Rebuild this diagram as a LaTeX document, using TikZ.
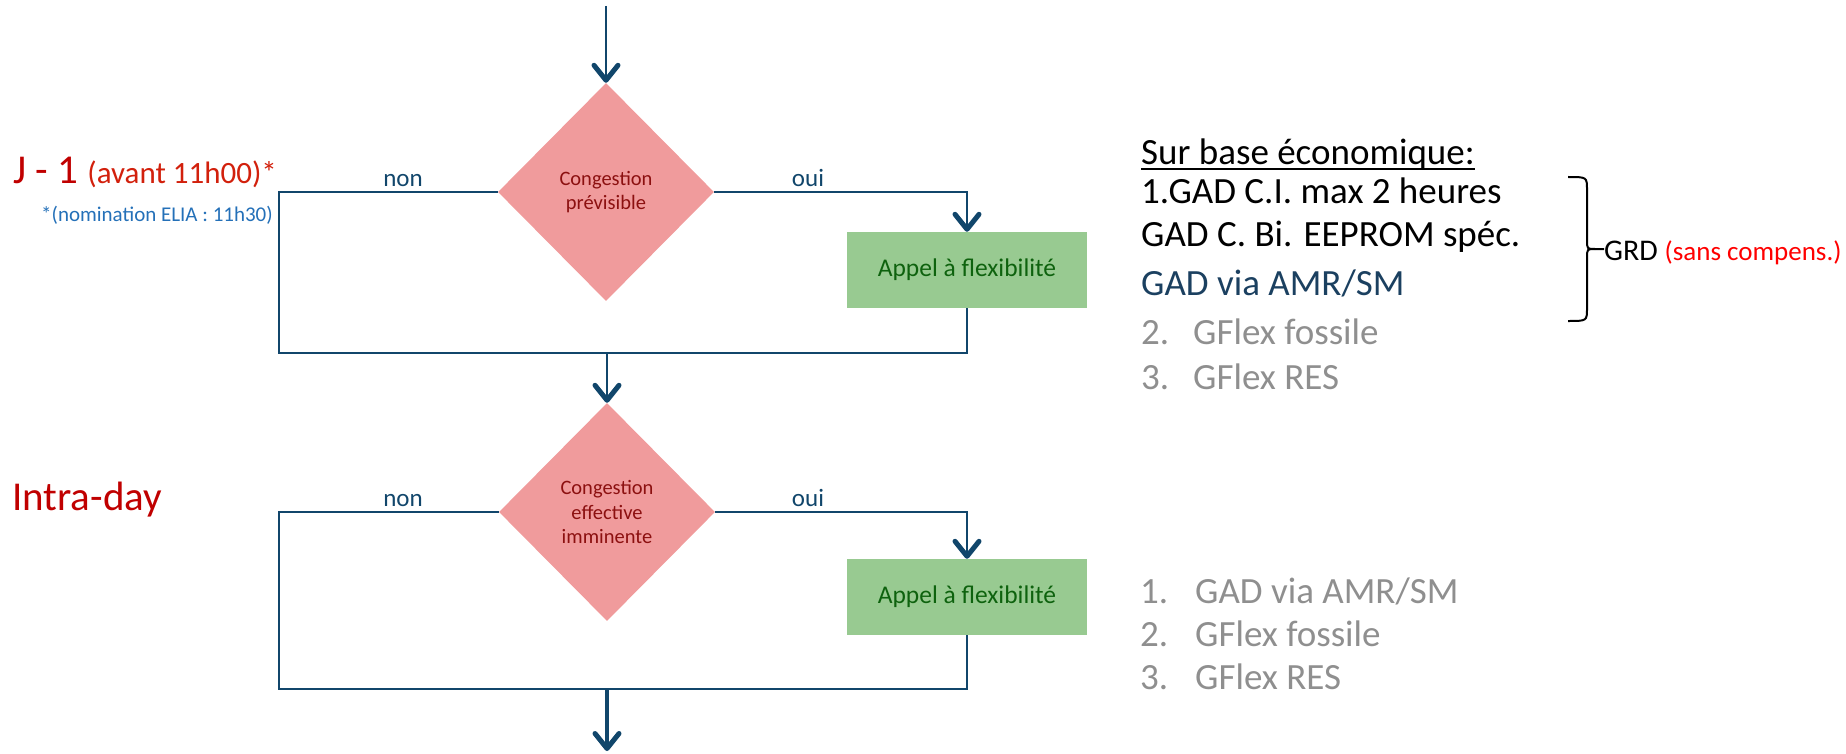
\documentclass[tikz,border=0pt]{standalone}
\usepackage{fontspec}
\setmainfont{Carlito}
\usetikzlibrary{shapes.geometric,arrows.meta}

\definecolor{flowblue}{HTML}{11466B}
\definecolor{decfill}{HTML}{F09B9C}
\definecolor{dectext}{HTML}{8C1010}
\definecolor{actfill}{HTML}{98CA91}
\definecolor{acttext}{HTML}{0E620E}
\definecolor{titlered}{HTML}{C00000}
\definecolor{notered}{HTML}{D2200C}
\definecolor{noteblue}{HTML}{2470B8}
\definecolor{listgray}{HTML}{8F8F8F}
\definecolor{listblue}{HTML}{1B4060}

\tikzset{
  decision/.style={diamond, fill=decfill, text=dectext, minimum width=216pt,
    minimum height=218pt, inner sep=0pt, align=center,
    font=\fontsize{20.5}{24.5}\selectfont},
  action/.style={rectangle, fill=actfill, text=acttext, minimum width=240pt,
    minimum height=76pt, inner sep=0pt, font=\fontsize{25.5}{30}\selectfont},
  flow/.style={draw=flowblue, line width=2pt},
  flowarrow/.style={flow, -{Straight Barb[length=15pt,width=24pt,line width=5pt,round]}},
  branch/.style={text=flowblue, font=\fontsize{25}{29}\selectfont, anchor=base, inner sep=0pt},
  txt/.style={anchor=base west, inner sep=0pt},
  listtxt/.style={txt, font=\fontsize{37}{44}\selectfont},
  brace/.style={draw=black, line width=2pt},
}

\begin{document}
\begin{tikzpicture}[x=1pt,y=-1pt]
\useasboundingbox (0,0) rectangle (1846,754);

% J - 1 stage
\node[decision] (prev) at (606,192) {Congestion\\prévisible};
\node[action] (flex1) at (967,270) {Appel à flexibilité};
\coordinate (start) at (606,6);
\coordinate (nonA) at (279,192);
\coordinate (loopA) at (279,353);

\draw[flowarrow] (start) -- (prev.north);
\draw[flow] (prev.west) -- (nonA) -- (loopA) -| (flex1.south);
\draw[flowarrow] (prev.east) -| (flex1.north);

\node[branch] (nonAl) at (403,186) {non};
\node[branch] (ouiAl) at (808,186) {oui};

% Intra-day stage
\node[decision] (imm) at (607,512) {Congestion\\effective\\imminente};
\node[action] (flex2) at (967,597) {Appel à flexibilité};
\coordinate (nonB) at (279,512);
\coordinate (loopB) at (279,689);
\coordinate (finish) at (607,751);

\draw[flowarrow] (loopA -| imm.north) -- (imm.north);
\draw[flow] (imm.west) -- (nonB) -- (loopB) -| (flex2.south);
\draw[flowarrow] (imm.east) -| (flex2.north);
\draw[flowarrow, line width=4pt] (loopB -| imm.south) -- (finish);

\node[branch] (nonBl) at (403,506) {non};
\node[branch] (ouiBl) at (808,506) {oui};

% Left labels
\node[txt, text=titlered] (jday) at (13,183)
  {\fontsize{41}{49}\selectfont J - 1 {\color{notered}\fontsize{31}{37}\selectfont (avant 11h00)*}};
\node[anchor=base east, inner sep=0pt, text=noteblue, font=\fontsize{21}{25}\selectfont]
  (elia) at (273,221) {*(nomination ELIA : 11h30)};
\node[txt, text=titlered, font=\fontsize{41}{49}\selectfont] (intra) at (12,510) {Intra-day};

% Right list, J - 1
\node[listtxt] (eco) at (1141,165) {Sur base économique:};
\draw[line width=2pt] ([yshift=-4pt]eco.base west) -- ([yshift=-4pt]eco.base east);
\node[listtxt] (gadci) at (1141,204) {1.GAD C.I. max 2 heures};
\node[listtxt] (gadbi) at (1141,246) {GAD C. Bi. EEPROM spéc.};
\node[listtxt, text=listblue] (gadamr) at (1141,295) {GAD via AMR/SM};
\node[listtxt, text=listgray] (fossA) at (1141,344) {\makebox[52pt][l]{2.}GFlex fossile};
\node[listtxt, text=listgray] (resA) at (1141,389) {\makebox[52pt][l]{3.}GFlex RES};

% Brace and GRD
\node[txt, font=\fontsize{30}{36}\selectfont] (grd) at (1604,260)
  {GRD {\color{red}\fontsize{27}{32}\selectfont (sans compens.)}};
\coordinate (tip) at (1604,249);
\draw[brace] (1568,177) .. controls (1587,177) .. (1587,190) -- (1587,240)
  .. controls (1587,249) .. (1595,249) -- (tip);
\draw[brace] (1568,321) .. controls (1587,321) .. (1587,308) -- (1587,258)
  .. controls (1587,249) .. (1595,249);

% Right list, intra-day
\node[listtxt, text=listgray] (gadB) at (1140,603) {\makebox[55pt][l]{1.}GAD via AMR/SM};
\node[listtxt, text=listgray] (fossB) at (1140,646) {\makebox[55pt][l]{2.}GFlex fossile};
\node[listtxt, text=listgray] (resB) at (1140,689) {\makebox[55pt][l]{3.}GFlex RES};

\end{tikzpicture}
\end{document}
